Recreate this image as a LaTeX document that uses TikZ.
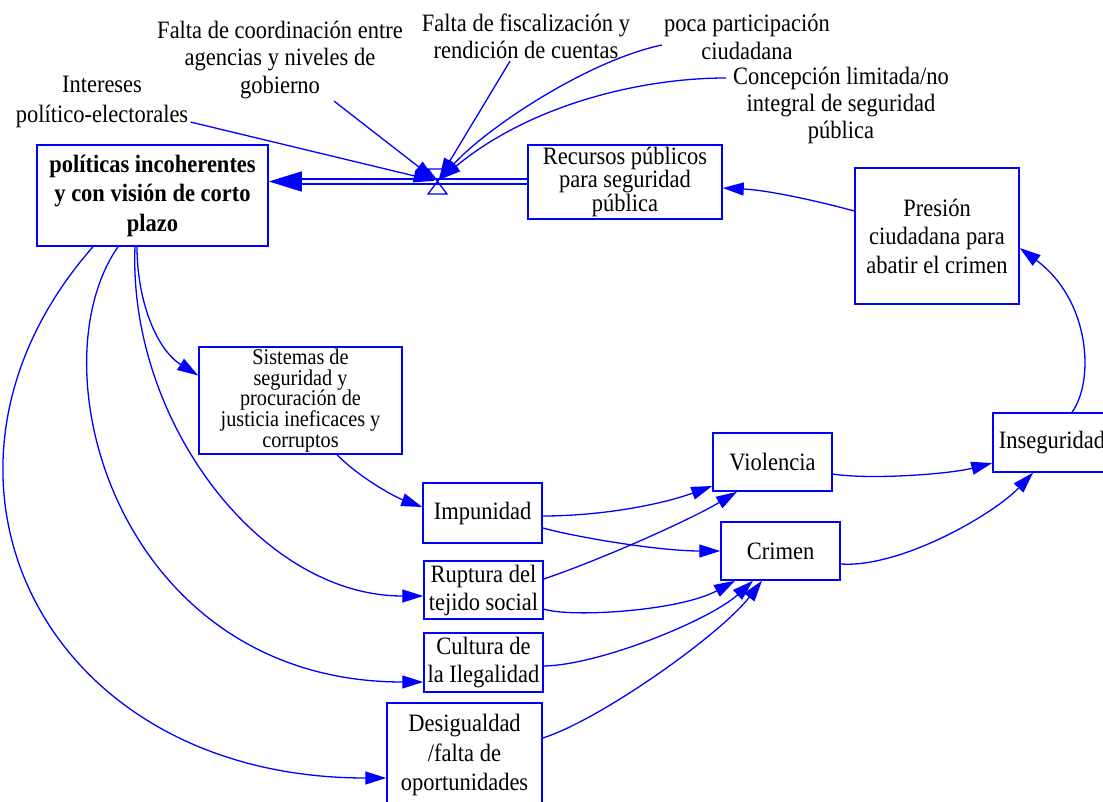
\documentclass[tikz,border=0pt]{standalone}
\usepackage{fontspec}
\setmainfont{Liberation Serif}[FakeStretch=0.9]
\usetikzlibrary{arrows.meta,calc}

\begin{document}
\begin{tikzpicture}[x=1pt,y=-1pt,
  every node/.style={font=\fontsize{25}{28}\selectfont, align=center, text=black},
  box/.style={draw=blue, line width=1.5pt, inner sep=0pt, fill=white},
  lbl/.style={inner sep=2pt},
  conn/.style={draw=blue, line width=1.3pt, -{Triangle[length=21pt,width=13pt]}},
  pipe/.style={draw=blue, line width=1.3pt, double=white, double distance=3.6pt,
    -{Triangle[length=33pt,width=20pt]}},
  valveshape/.style={draw=blue, line width=1.3pt},
]
\useasboundingbox (0,0) rectangle (1103,802);

% stocks and variables in boxes
\node[box, minimum width=231pt, minimum height=101pt,
  font=\bfseries\fontsize{25}{29.5}\selectfont] (pol) at (152.5,195.5)
  {políticas incoherentes\\y con visión de corto\\plazo};
\node[box, minimum width=194pt, minimum height=74pt,
  font=\fontsize{25}{22}\selectfont] (rec) at (625,182)
  {Recursos públicos\\para seguridad\\pública};
\node[box, minimum width=164pt, minimum height=136pt,
  font=\fontsize{25}{28.5}\selectfont] (pres) at (937,236)
  {Presión\\ciudadana para\\abatir el crimen};
\node[box, minimum width=203pt, minimum height=107pt,
  font=\fontsize{22.5}{20.7}\selectfont] (sis) at (300.5,400.5)
  {Sistemas de\\seguridad y\\procuración de\\justicia ineficaces y\\corruptos};
\node[box, minimum width=119pt, minimum height=60pt] (imp) at (482.5,513) {Impunidad};
\node[box, minimum width=119pt, minimum height=58pt] (vio) at (772.5,462) {Violencia};
\node[box, minimum width=119pt, minimum height=58pt] (cri) at (780.5,551) {Crimen};
\node[box, minimum width=118pt, minimum height=59pt] (ins) at (1052,442.5) {Inseguridad};
\node[box, minimum width=119pt, minimum height=58pt] (rup) at (483.5,590)
  {Ruptura del\\tejido social};
\node[box, minimum width=119pt, minimum height=59pt] (cul) at (483.5,662.5)
  {Cultura de\\la Ilegalidad};
\node[box, minimum width=155pt, minimum height=104pt,
  font=\fontsize{25}{29.5}\selectfont] (des) at (464.5,755)
  {Desigualdad\\/falta de\\oportunidades};

% free-standing auxiliaries
\node[lbl, font=\fontsize{25}{27.5}\selectfont] (coord) at (280,60)
  {Falta de coordinación entre\\agencias y niveles de\\gobierno};
\node[lbl, font=\fontsize{25}{30}\selectfont] (int) at (102,102)
  {Intereses\\político-electorales};
\node[lbl, font=\fontsize{25}{27}\selectfont] (fis) at (526,36.5)
  {Falta de fiscalización y\\rendición de cuentas};
\node[lbl] (par) at (747,37) {poca participación\\ciudadana};
\node[lbl, font=\fontsize{25}{27}\selectfont] (con) at (841,105)
  {Concepción limitada/no\\integral de seguridad\\pública};

% flow with its valve
\coordinate (valve) at (437.5,181.5);
\draw[pipe] (rec.west |- valve) -- (pol.east |- valve);
\draw[valveshape] ($(valve)+(-9.5,-12.5)$) -- ($(valve)+(9.5,-12.5)$)
  -- ($(valve)+(-9.5,12.5)$) -- ($(valve)+(9.5,12.5)$) -- cycle;

% influences on the flow
\draw[conn, shorten >=3pt] ($(int.east)+(0,20)$) -- (valve);
\draw[conn, shorten >=3pt] ($(coord.south)+(54,0)$) -- (valve);
\draw[conn, shorten >=3pt] ($(fis.south)+(-16,0)$) -- (valve);
\draw[conn, shorten >=3pt] ($(par.west)+(0,8)$)
  .. controls (590,60) and (490,125) .. (valve);
\draw[conn, shorten >=3pt] ($(con.west)+(-5,-27)$)
  .. controls (640,78) and (530,105) .. (valve);

% feedback from citizens
\draw[conn] ($(pres.west)+(0,-25)$)
  .. controls (810,199) and (765,190) .. ($(rec.east)+(0,6)$);
\draw[conn] ($(ins.north)+(20,0)$)
  .. controls (1095,380) and (1090,300) .. ($(pres.east)+(0,12)$);

% effects of incoherent policies
\draw[conn] ($(pol.south)+(-15.5,0)$)
  .. controls (137,300) and (156,349) .. ($(sis.west)+(0,-25)$);
\draw[conn] ($(pol.south)+(-17.5,0)$)
  .. controls (128,420) and (260,596) .. ($(rup.west)+(0,6)$);
\draw[conn] ($(pol.south)+(-34.5,0)$)
  .. controls (32.5,370) and (120,682) .. ($(cul.west)+(0,19.5)$);
\draw[conn] ($(pol.south)+(-59.5,0)$)
  .. controls (-105,472) and (40,778) .. ($(des.west)+(0,23)$);

% chain towards insecurity
\draw[conn] ($(sis.south)+(36.5,0)$)
  .. controls (360,478) and (395,497) .. ($(imp.west)+(0,-6)$);
\draw[conn] ($(imp.east)+(0,3)$)
  .. controls (600,516) and (660,505) .. ($(vio.west)+(0,24)$);
\draw[conn] ($(imp.east)+(0,15)$)
  .. controls (580,538) and (660,551) .. (cri.west);
\draw[conn] ($(rup.east)+(0,-11)$)
  .. controls (600,560) and (690,520) .. ($(vio.south)+(-35.5,0)$);
\draw[conn] ($(rup.east)+(0,19)$)
  .. controls (570,618) and (680,611) .. ($(cri.south)+(-45.5,0)$);
\draw[conn] ($(cul.east)+(0,3.5)$)
  .. controls (600,665) and (710,620) .. ($(cri.south)+(-27.5,0)$);
\draw[conn] ($(des.east)+(0,-17)$)
  .. controls (600,720) and (720,635) .. ($(cri.south)+(-18.5,0)$);
\draw[conn] ($(vio.east)+(0,12)$)
  .. controls (870,480) and (950,474) .. ($(ins.west)+(0,20.5)$);
\draw[conn] ($(cri.east)+(0,13)$)
  .. controls (900,568) and (993,515) .. ($(ins.south)+(-19,0)$);
\end{tikzpicture}
\end{document}
